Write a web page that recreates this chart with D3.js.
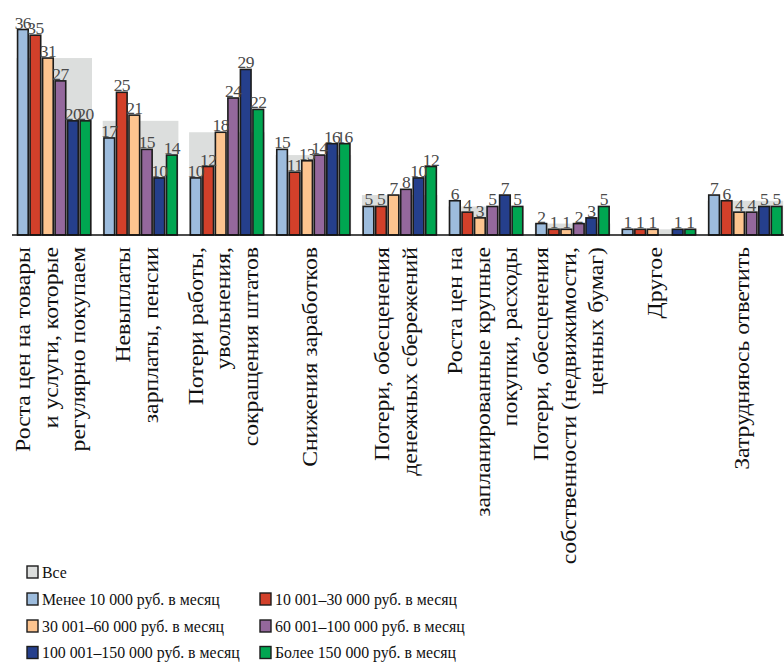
<!DOCTYPE html>
<html>
<head>
<meta charset="utf-8">
<script src="https://cdn.jsdelivr.net/npm/d3@7"></script>
<style>
  html, body { margin: 0; padding: 0; background: #fff; }
  svg { display: block; }
</style>
</head>
<body>
<svg id="chart" width="784" height="663"></svg>
<script>
// ---- DATA ----
const categories = [
  "Роста цен на товары|и услуги, которые|регулярно покупаем",
  "Невыплаты|зарплаты, пенсии",
  "Потери работы,|увольнения,|сокращения штатов",
  "Снижения заработков",
  "Потери, обесценения|денежных сбережений",
  "Роста цен на|запланированные крупные|покупки, расходы",
  "Потери, обесценения|собственности (недвижимости,|ценных бумаг)",
  "Другое",
  "Затрудняюсь ответить"
];
const allLabel = "Все";
const allValues = [31, 20, 18, 14, 7, 5, 2, 1, 6];
const seriesNames = [
  "Менее 10 000 руб. в месяц",
  "10 001–30 000 руб. в месяц",
  "30 001–60 000 руб. в месяц",
  "60 001–100 000 руб. в месяц",
  "100 001–150 000 руб. в месяц",
  "Более 150 000 руб. в месяц"
];
const s1 = [36, 17, 10, 15, 5, 6, 2, 1, 7];
const s2 = [35, 25, 12, 11, 5, 4, 1, 1, 6];
const s3 = [31, 21, 18, 13, 7, 3, 1, 1, 4];
const s4 = [27, 15, 24, 14, 8, 5, 2, null, 4];
const s5 = [20, 10, 29, 16, 10, 7, 3, 1, 5];
const s6 = [20, 14, 22, 16, 12, 5, 5, 1, 5];
const seriesValues = [s1, s2, s3, s4, s5, s6];

// ---- STYLE ----
const colors = ["#9dbcdd", "#d2402a", "#fdc48f", "#94689c", "#253f8c", "#00a651"];
const allColor = "#dcdedd";

// pick an installed serif font if any
function pickFont() {
  const cv = document.createElement("canvas").getContext("2d");
  const sample = "Роста цен на товары 0123456789 Менее";
  const w = f => { cv.font = "40px " + f; return cv.measureText(sample).width; };
  const bases = ["monospace", "sans-serif", "serif"].map(w);
  const cands = ["Liberation Serif", "DejaVu Serif", "Times New Roman", "Tinos", "Noto Serif",
                 "FreeSerif", "Nimbus Roman", "Nimbus Roman No9 L", "Times", "Noto Serif CJK SC", "Source Han Serif SC"];
  for (const c of cands) {
    const ww = w(`"${c}", monospace`);
    const ws = w(`"${c}", sans-serif`);
    if (ww !== bases[0] && ws === ww) return `"${c}", serif`;
  }
  return null;
}
const serifFont = pickFont();
const fontFam = serifFont || '"Liberation Sans Narrow", "Liberation Sans", sans-serif';
const isSerif = !!serifFont;

const svg = d3.select("#chart").style("font-family", fontFam);
const baseY = 235;

const x = d3.scaleBand()
  .domain(categories)
  .range([12, 787.5])
  .paddingInner(0.147)
  .paddingOuter(0.0615);

const xs = d3.scaleBand()
  .domain(d3.range(seriesNames.length))
  .range([0, x.bandwidth()])
  .paddingInner(0.15)
  .paddingOuter(0.02);

const y = d3.scaleLinear().domain([0, 36]).range([baseY, 29.5]);

// "Все" background bars
svg.append("g").selectAll("rect")
  .data(categories.map((c, i) => ({ c, v: allValues[i] })))
  .join("rect")
  .attr("x", d => x(d.c) - 1)
  .attr("width", x.bandwidth() + 2)
  .attr("y", d => y(d.v))
  .attr("height", d => baseY - y(d.v))
  .attr("fill", allColor);

// Series bars
const barData = [];
categories.forEach((c, i) => {
  seriesValues.forEach((arr, s) => {
    if (arr[i] != null) barData.push({ c, s, v: arr[i] });
  });
});

svg.append("g").selectAll("rect")
  .data(barData)
  .join("rect")
  .attr("x", d => x(d.c) + xs(d.s))
  .attr("width", xs.bandwidth())
  .attr("y", d => y(d.v))
  .attr("height", d => baseY - y(d.v))
  .attr("fill", d => colors[d.s])
  .attr("stroke", "#1c1c1c")
  .attr("stroke-width", 1.6);

// Value labels
svg.append("g").selectAll("text")
  .data(barData)
  .join("text")
  .attr("x", d => x(d.c) + xs(d.s) + xs.bandwidth() / 2)
  .attr("y", d => y(d.v) - 1)
  .attr("text-anchor", "middle")
  .attr("font-size", 17.5)
  .attr("letter-spacing", isSerif ? -0.6 : -1)
  .attr("fill", "#4a4a4a")
  .text(d => d.v);

// Axis baseline
svg.append("line")
  .attr("x1", 12).attr("x2", 784)
  .attr("y1", baseY).attr("y2", baseY)
  .attr("stroke", "#111").attr("stroke-width", 1.6);

// Category labels (rotated), stretched to the reference's length
const lineGap = 27.5;
const catG = svg.append("g");
const catFont = 20;
categories.forEach(c => {
  const lines = c.split("|");
  const cx = x(c) + x.bandwidth() / 2 - 1;
  lines.forEach((ln, i) => {
    const px = cx + (i - (lines.length - 1) / 2) * lineGap;
    catG.append("text")
      .attr("class", "cat")
      .attr("transform", `translate(${px},247) rotate(-90)`)
      .attr("text-anchor", "end")
      .attr("dy", "0.22em")
      .attr("font-size", catFont)
      .attr("fill", "#111")
      .text(ln);
  });
});
// calibrate stretch: "Роста цен на товары" spans ~205px in the reference
const firstCat = catG.select("text.cat").node();
const stretch = 205 / firstCat.getComputedTextLength();
catG.selectAll("text.cat").attr("transform", function () {
  return d3.select(this).attr("transform") + ` scale(${stretch},1)`;
});

// Legend
const legendItems = [{ name: allLabel, color: allColor, row: 0, col: 0 }];
seriesNames.forEach((n, i) => {
  legendItems.push({ name: n, color: colors[i], row: 1 + Math.floor(i / 2), col: i % 2 });
});
const rowY = [572, 599, 626, 652.5];
const colX = [27, 260];
const lg = svg.append("g");
legendItems.forEach(it => {
  const g = lg.append("g").attr("transform", `translate(${colX[it.col]},${rowY[it.row]})`);
  g.append("rect")
    .attr("x", 0).attr("y", -6)
    .attr("width", 11).attr("height", 12)
    .attr("fill", it.color)
    .attr("stroke", "#1c1c1c").attr("stroke-width", 1.4);
  g.append("text")
    .attr("x", 15).attr("y", 0)
    .attr("dy", "0.36em")
    .attr("font-size", 16)
    .attr("fill", "#111")
    .text(it.name);
});
// legend text "Менее 10 000 руб. в месяц" spans ~178px in the reference
const lgTexts = lg.selectAll("text");
const refNode = lgTexts.nodes()[1];
const lgScale = 178 / refNode.getComputedTextLength();
lgTexts.attr("transform", `translate(15,0) scale(${lgScale},1) translate(-15,0)`);
</script>
</body>
</html>
